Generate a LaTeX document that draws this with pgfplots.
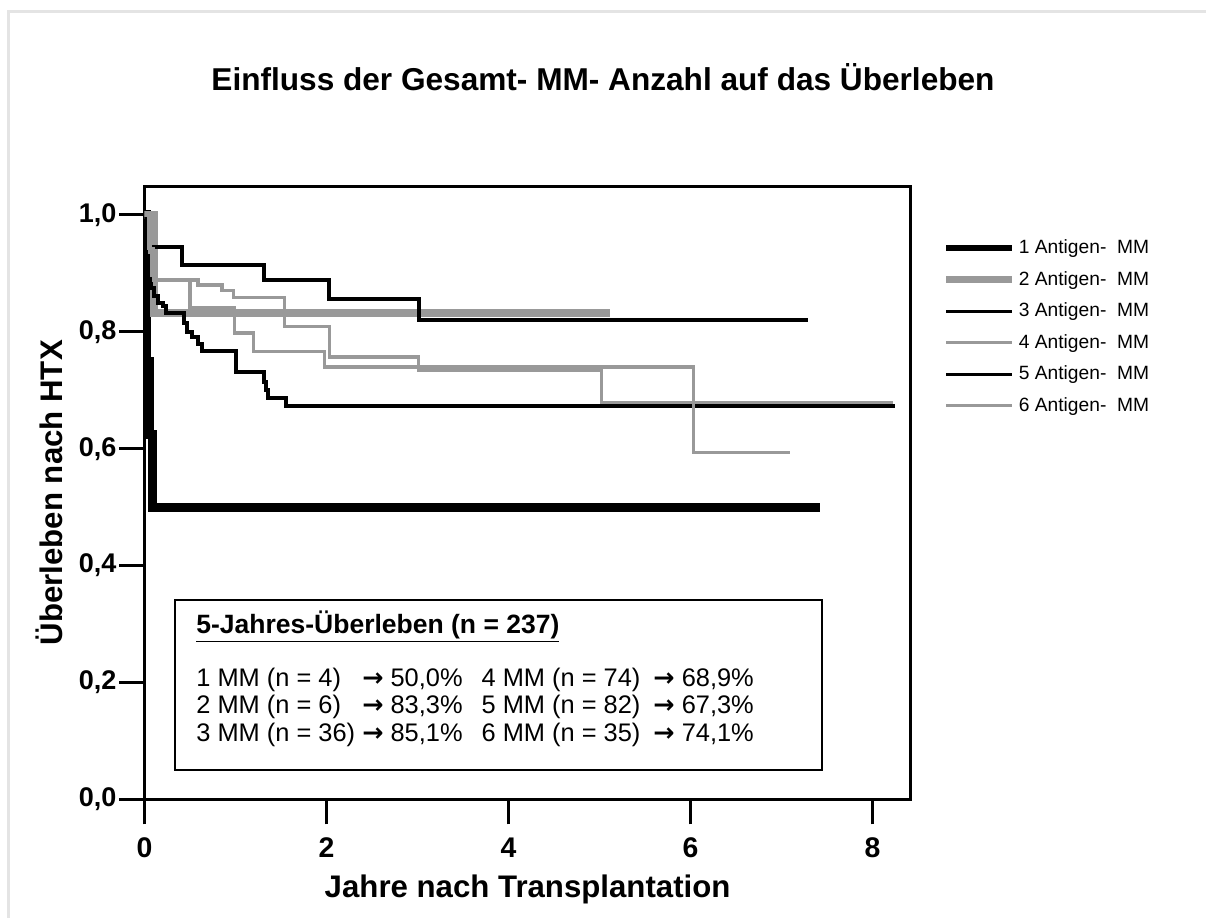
\documentclass[border=0pt]{standalone}
\usepackage{pgfplots}
\pgfplotsset{compat=1.18}
\usepackage{fontspec}
\setmainfont{Liberation Sans}
\newfontfamily\arrowfont{DejaVu Sans}
\newcommand{\ar}{{\arrowfont\bfseries →}}
\definecolor{kmgray}{RGB}{153,153,153}
\definecolor{framegray}{RGB}{228,228,228}
\begin{document}
\begin{tikzpicture}
\path[use as bounding box] (0pt,0pt) rectangle (603pt,-459pt);
\fill[white] (0pt,0pt) rectangle (603pt,-459pt);
\draw[framegray, line width=1.5pt] (4pt,-459pt) -- (4pt,-5.5pt) -- (603pt,-5.5pt);
\node[anchor=base, font=\fontsize{15.8}{18}\selectfont\bfseries] at (301.5pt,-45pt) {Einfluss der Gesamt- MM- Anzahl auf das Überleben};
\begin{axis}[
  at={(72.25pt,-399.65pt)}, anchor=south west,
  scale only axis, width=383.1pt, height=306.65pt,
  xmin=0, xmax=8.42, ymin=0, ymax=1.0496,
  xtick={0,2,4,6,8}, ytick={0,0.2,0.4,0.6,0.8,1.0},
  xtick pos=left, ytick pos=left,
  tick align=outside, major tick length=12.5pt,
  axis line style={line width=1.5pt},
  every tick/.style={line width=1.5pt, black},
  yticklabel style={font=\fontsize{13.5}{16}\selectfont\bfseries, xshift=2pt,
    /pgf/number format/.cd, fixed, fixed zerofill, precision=1, use comma},
  xticklabel style={font=\fontsize{14.2}{16}\selectfont\bfseries, text height=10.2pt, text depth=0pt, anchor=north, yshift=-3pt},
  /pgf/number format/assume math mode=true,
  xlabel={Jahre nach Transplantation},
  ylabel={Überleben nach HTX},
  label style={font=\fontsize{15.6}{18}\selectfont\bfseries},
  xlabel style={at={(axis description cs:0.5,0)}, anchor=base, yshift=-49.3pt},
  every axis y label/.append style={at={(axis description cs:-0.1245,0.5)}, anchor=center, rotate=0},
  legend style={at={(axis description cs:1.0415,0.918)}, anchor=north west, draw=none, fill=none,
    font=\fontsize{9.6}{10}\selectfont, inner sep=0pt, row sep=4.3pt,
    nodes={inner sep=1.5pt}},
  legend cell align=left,
]
\addplot[const plot, black, line width=4.5pt, forget plot] coordinates {(0,1) (0.02,0.75) (0.05,0.625) (0.09,0.5) (7.42,0.5)};
\addplot[const plot, kmgray, line width=4pt, forget plot] coordinates {(0,1) (0.10,0.833) (5.12,0.833)};
\addplot[const plot, black, line width=2pt, forget plot] coordinates {(0,1) (0.03,0.946) (0.41,0.914) (1.31,0.889) (2.03,0.857) (3.02,0.821) (7.29,0.821)};
\addplot[const plot, kmgray, line width=1.7pt, forget plot] coordinates {(0,1) (0.03,0.96) (0.06,0.92) (0.09,0.889) (0.59,0.880) (0.85,0.871) (0.98,0.859) (1.54,0.809) (2.03,0.757) (3.01,0.735) (5.02,0.679) (8.22,0.679)};
\addplot[const plot, black, line width=2pt, forget plot] coordinates {(0,1) (0.01,0.96) (0.02,0.93) (0.04,0.89) (0.07,0.875) (0.10,0.862) (0.15,0.85) (0.20,0.845) (0.24,0.832) (0.43,0.815) (0.47,0.80) (0.52,0.792) (0.59,0.780) (0.63,0.768) (1.01,0.732) (1.31,0.715) (1.33,0.700) (1.36,0.686) (1.56,0.673) (8.25,0.673)};
\addplot[const plot, kmgray, line width=1.7pt, forget plot] coordinates {(0,1) (0.05,0.943) (0.10,0.889) (0.50,0.842) (0.99,0.798) (1.20,0.766) (1.98,0.740) (6.03,0.594) (7.09,0.594)};
\addlegendimage{legend image code/.code={\draw[black, line width=3.3pt] (0pt,0pt) -- (33pt,0pt);}}
\addlegendentry{1 Antigen-~ MM}
\addlegendimage{legend image code/.code={\draw[kmgray, line width=3.5pt] (0pt,0pt) -- (33pt,0pt);}}
\addlegendentry{2 Antigen-~ MM}
\addlegendimage{legend image code/.code={\draw[black, line width=1.6pt] (0pt,0pt) -- (33pt,0pt);}}
\addlegendentry{3 Antigen-~ MM}
\addlegendimage{legend image code/.code={\draw[kmgray, line width=1.5pt] (0pt,0pt) -- (33pt,0pt);}}
\addlegendentry{4 Antigen-~ MM}
\addlegendimage{legend image code/.code={\draw[black, line width=1.6pt] (0pt,0pt) -- (33pt,0pt);}}
\addlegendentry{5 Antigen-~ MM}
\addlegendimage{legend image code/.code={\draw[kmgray, line width=1.5pt] (0pt,0pt) -- (33pt,0pt);}}
\addlegendentry{6 Antigen-~ MM}
\draw[black, line width=1pt] (axis cs:0.335,0.341) rectangle (axis cs:7.45,0.050);
\node[anchor=base west, inner sep=0pt, font=\fontsize{13.25}{15}\selectfont\bfseries] at (axis cs:0.566,0.2846) {\underline{5-Jahres-Überleben (n = 237)}};
\node[anchor=base west, font=\fontsize{12.7}{13.75}\selectfont, inner sep=0pt] at (axis cs:0.566,0.1939) {%
  \begin{tabular}[t]{@{}l@{\ }l@{\hspace{9.5pt}}l@{\hspace{6.5pt}}l@{}}
  1 MM (n = 4) & \ar\ 50,0\% & 4 MM (n = 74) & \ar\ 68,9\%\\
  2 MM (n = 6) & \ar\ 83,3\% & 5 MM (n = 82) & \ar\ 67,3\%\\
  3 MM (n = 36) & \ar\ 85,1\% & 6 MM (n = 35) & \ar\ 74,1\%
  \end{tabular}};
\end{axis}
\end{tikzpicture}
\end{document}
